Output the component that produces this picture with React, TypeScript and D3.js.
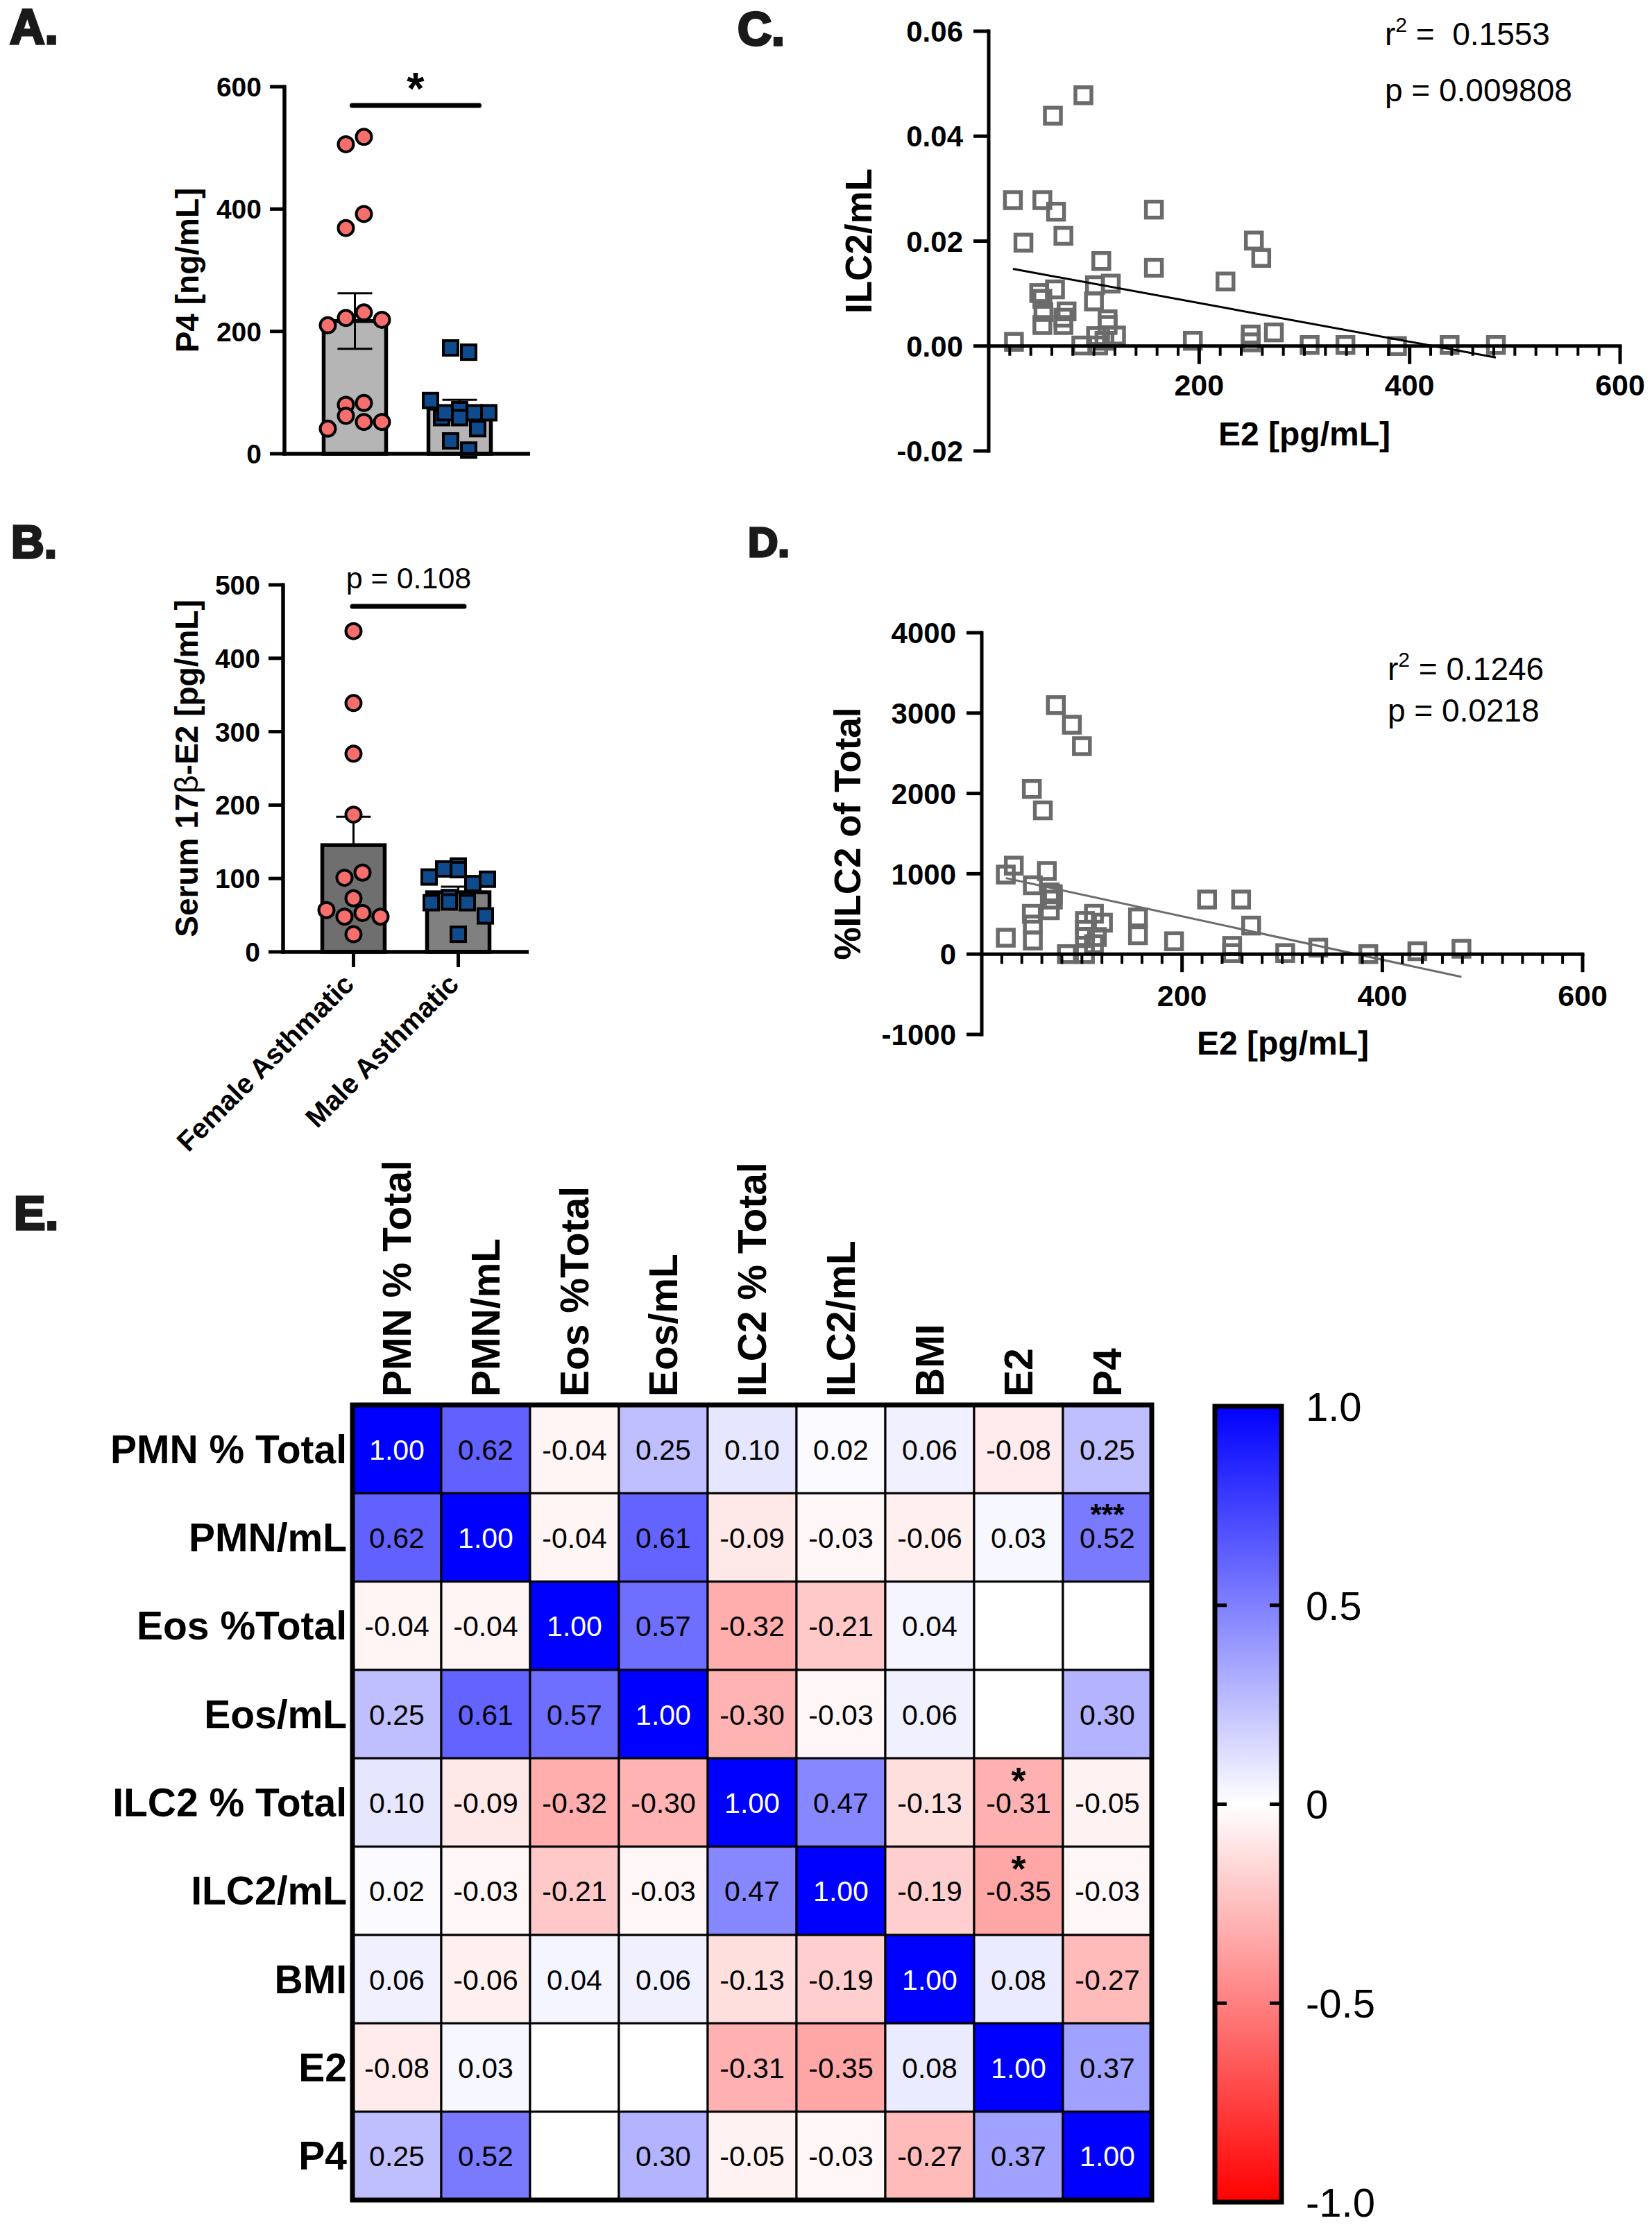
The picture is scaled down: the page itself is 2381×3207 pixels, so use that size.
import React from "react";
import * as d3 from "d3";

const FONT = "'Liberation Sans', Arial, Helvetica, sans-serif";
const W = 2381;
const H = 3207;

// ---------- Panel A / B : bar + dot plots ----------
const groups = ["Female Asthmatic", "Male Asthmatic"];
const p4Female = [506, 518, 369, 392, 210, 222, 231, 219, 80, 83, 41, 62, 52, 52];
const p4Male = [173, 166, 87, 59, 67, 72, 67, 67, 59, 41, 21, 6];
const p4Ticks = [0, 200, 400, 600];
const e2Female = [437, 339, 270, 187, 101, 108, 57, 48, 53, 48, 73, 24];
const e2Male = [102, 117, 113, 112, 93, 99, 67, 74, 71, 68, 67, 49, 24];
const e2Ticks = [0, 100, 200, 300, 400, 500];

// ---------- Panel C : ILC2/mL vs E2 ----------
const cE2 = [23, 33, 24, 51, 64, 61, 90, 71, 48, 63, 51, 52, 51, 71, 74, 71, 107, 101, 116, 100, 113, 113, 121, 102, 88, 104, 110, 157, 157, 194, 225, 252, 259, 249, 249, 271, 305, 339, 388, 438, 482];
const cILC2 = [0.0278, 0.0197, 0.0008, 0.0278, 0.0256, 0.0439, 0.0478, 0.021, 0.0101, 0.0108, 0.009, 0.0065, 0.004, 0.004, 0.0066, 0.0054, 0.0162, 0.0116, 0.0119, 0.0085, 0.0051, 0.004, 0.002, 0.0019, 0.0001, 0.0001, 0.001, 0.026, 0.0149, 0.001, 0.0123, 0.0201, 0.0168, 0.0022, 0.0007, 0.0026, 0.0002, 0.0002, 0.0, 0.0002, 0.0002];
const cFit = { intercept: 0.01555, slope: -3.68e-5 };
const cYTicks = [-0.02, 0, 0.02, 0.04, 0.06];
const cStats = ["0.1553", "0.009808"];

// ---------- Panel D : %ILC2 of Total vs E2 ----------
const dE2 = [24, 32, 24, 50, 61, 74, 90, 100, 65, 51, 68, 71, 68, 50, 51, 51, 71, 85, 103, 103, 112, 103, 121, 115, 103, 112, 156, 156, 192, 225, 259, 269, 250, 250, 303, 336, 386, 435, 479];
const dILC2 = [990, 1101, 204, 2055, 1789, 3099, 2855, 2588, 1034, 857, 768, 679, 546, 502, 368, 169, 746, 0, 0, 413, 502, 302, 391, 213, 213, 124, 457, 235, 160, 679, 679, 355, 102, 13, 13, 80, 0, 36, 67];
const dFit = { intercept: 1011, slope: -2.703 };
const dYTicks = [-1000, 0, 1000, 2000, 3000, 4000];
const dStats = ["0.1246", "0.0218"];

const xMajorTicks = [200, 400, 600];
const xMinorTicks = d3.range(20, 600, 20).filter((v) => v % 200 !== 0);

// ---------- Panel E : correlation heatmap ----------
const vars = ["PMN % Total", "PMN/mL", "Eos %Total", "Eos/mL", "ILC2 % Total", "ILC2/mL", "BMI", "E2", "P4"];
const rPMNpct = [1.0, 0.62, -0.04, 0.25, 0.1, 0.02, 0.06, -0.08, 0.25];
const rPMNml = [0.62, 1.0, -0.04, 0.61, -0.09, -0.03, -0.06, 0.03, 0.52];
const rEOSpct = [-0.04, -0.04, 1.0, 0.57, -0.32, -0.21, 0.04, null, null];
const rEOSml = [0.25, 0.61, 0.57, 1.0, -0.3, -0.03, 0.06, null, 0.3];
const rILCpct = [0.1, -0.09, -0.32, -0.3, 1.0, 0.47, -0.13, -0.31, -0.05];
const rILCml = [0.02, -0.03, -0.21, -0.03, 0.47, 1.0, -0.19, -0.35, -0.03];
const rBMI = [0.06, -0.06, 0.04, 0.06, -0.13, -0.19, 1.0, 0.08, -0.27];
const rE2 = [-0.08, 0.03, null, null, -0.31, -0.35, 0.08, 1.0, 0.37];
const rP4 = [0.25, 0.52, null, 0.3, -0.05, -0.03, -0.27, 0.37, 1.0];
const corr: (number | null)[][] = [rPMNpct, rPMNml, rEOSpct, rEOSml, rILCpct, rILCml, rBMI, rE2, rP4];
const sigMarks = [
  { row: "PMN/mL", col: "P4", mark: "***" },
  { row: "ILC2 % Total", col: "E2", mark: "*" },
  { row: "ILC2/mL", col: "E2", mark: "*" },
];
const cbTicks = [1, 0.5, 0, -0.5, -1];
const cbLabels = ["1.0", "0.5", "0", "-0.5", "-1.0"];

const loc = d3.formatLocale({ decimal: ".", thousands: ",", grouping: [3], currency: ["", ""], minus: "-" });
const f2 = loc.format(".2f");
const fInt = loc.format("d");

function swarm(values: number[], y: (v: number) => number, diam: number, spacing: number, maxHalf: number) {
  const order = d3.range(values.length).sort((a, b) => values[a] - values[b]);
  const rows: number[][] = [];
  let cur: number[] = [];
  for (const i of order) {
    if (cur.length && Math.abs(y(values[cur[0]]) - y(values[i])) >= diam) {
      rows.push(cur);
      cur = [];
    }
    cur.push(i);
  }
  if (cur.length) rows.push(cur);
  const off = new Array(values.length).fill(0);
  rows.forEach((r) => {
    r.sort((a, b) => a - b);
    const n = r.length;
    const s = n > 1 ? Math.min(spacing, (2 * maxHalf) / (n - 1)) : 0;
    r.forEach((i, k) => (off[i] = (k - (n - 1) / 2) * s));
  });
  return off;
}

function BarPanel(props: {
  y: d3.ScaleLinear<number, number>;
  x: d3.ScalePoint<string>;
  ticks: number[];
  female: number[];
  male: number[];
  fills: [string, string];
  lowerErr: boolean;
  axisX: number;
  axisEnd: number;
}) {
  const { y, x, ticks, female, male, fills, lowerErr, axisX, axisEnd } = props;
  const y0 = y(0);
  const sets = [female, male];
  return (
    <g>
      {sets.map((vals, gi) => {
        const cx = x(groups[gi]) as number;
        const m = d3.mean(vals) as number;
        const sem = (d3.deviation(vals) as number) / Math.sqrt(vals.length);
        const off = swarm(vals, y, 22, 26, 42);
        return (
          <g key={gi}>
            <rect x={cx - 45} y={y(m)} width={90} height={y0 - y(m)} fill={fills[gi]} stroke="#000" strokeWidth={5.5} />
            <line x1={cx} x2={cx} y1={y(lowerErr ? m - sem : m)} y2={y(m + sem)} stroke="#000" strokeWidth={3} />
            <line x1={cx - 25} x2={cx + 25} y1={y(m + sem)} y2={y(m + sem)} stroke="#000" strokeWidth={3} />
            {lowerErr && <line x1={cx - 25} x2={cx + 25} y1={y(m - sem)} y2={y(m - sem)} stroke="#000" strokeWidth={3} />}
            {vals.map((v, i) =>
              gi === 0 ? (
                <circle key={i} cx={cx + off[i]} cy={y(v)} r={11} fill="#f66f6c" stroke="#000" strokeWidth={4} />
              ) : (
                <rect key={i} x={cx + off[i] - 10.5} y={y(v) - 10.5} width={21} height={21} fill="#0e4a8c" stroke="#000" strokeWidth={4} />
              )
            )}
          </g>
        );
      })}
      <line x1={axisX} x2={axisX} y1={y(ticks[ticks.length - 1]) - 2.5} y2={y0 + 2.5} stroke="#000" strokeWidth={5.5} />
      <line x1={axisX - 2.5} x2={axisEnd} y1={y0} y2={y0} stroke="#000" strokeWidth={5.5} />
      {ticks.map((t) => (
        <g key={t}>
          <line x1={axisX - 21} x2={axisX} y1={y(t)} y2={y(t)} stroke="#000" strokeWidth={5} />
          <text x={axisX - 33} y={y(t)} dy="0.36em" textAnchor="end" fontSize={39} fontWeight="bold">
            {fInt(t)}
          </text>
        </g>
      ))}
    </g>
  );
}

function ScatterPanel(props: {
  x: d3.ScaleLinear<number, number>;
  y: d3.ScaleLinear<number, number>;
  xs: number[];
  ys: number[];
  fit: { intercept: number; slope: number };
  yTicks: number[];
  yFmt: (v: number) => string;
  lineColor: string;
}) {
  const { x, y, xs, ys, fit, yTicks, yFmt, lineColor } = props;
  const ax = x(0);
  const ay = y(0);
  const xmin = d3.min(xs) as number;
  const xmax = d3.max(xs) as number;
  return (
    <g>
      {xs.map((v, i) => (
        <rect key={i} x={x(v) - 11.5} y={y(ys[i]) - 11.5} width={23} height={23} fill="none" stroke="#6b6b6b" strokeWidth={5.5} />
      ))}
      <line x1={x(xmin)} y1={y(fit.intercept + fit.slope * xmin)} x2={x(xmax)} y2={y(fit.intercept + fit.slope * xmax)} stroke={lineColor} strokeWidth={3} />
      <line x1={ax} x2={ax} y1={y(yTicks[yTicks.length - 1]) - 2.5} y2={y(yTicks[0]) + 2.5} stroke="#000" strokeWidth={5} />
      <line x1={ax} x2={x(600) + 2.5} y1={ay} y2={ay} stroke="#000" strokeWidth={5} />
      {yTicks.map((t) => (
        <g key={t}>
          <line x1={ax - 22} x2={ax} y1={y(t)} y2={y(t)} stroke="#000" strokeWidth={5} />
          <text x={ax - 37} y={y(t)} dy="0.36em" textAnchor="end" fontSize={42} fontWeight="bold">
            {yFmt(t)}
          </text>
        </g>
      ))}
      {xMinorTicks.map((t) => (
        <line key={t} x1={x(t)} x2={x(t)} y1={ay} y2={ay + 14} stroke="#000" strokeWidth={4} />
      ))}
      {xMajorTicks.map((t) => (
        <g key={t}>
          <line x1={x(t)} x2={x(t)} y1={ay} y2={ay + 26} stroke="#000" strokeWidth={5} />
        </g>
      ))}
    </g>
  );
}

export default function App() {
  // Panel A
  const yA = d3.scaleLinear().domain([0, 600]).range([654, 125]);
  const xA = d3.scalePoint<string>().domain(groups).range([410, 764]).padding(0.672);
  // Panel B
  const yB = d3.scaleLinear().domain([0, 500]).range([1372, 843]);
  const xB = d3.scalePoint<string>().domain(groups).range([408, 762]).padding(0.672);
  // Panel C
  const xC = d3.scaleLinear().domain([0, 600]).range([1425, 2335]);
  const yC = d3.scaleLinear().domain([-0.02, 0.06]).range([650, 45]);
  // Panel D
  const xD = d3.scaleLinear().domain([0, 600]).range([1415, 2281]);
  const yD = d3.scaleLinear().domain([-1000, 4000]).range([1491, 912]);
  // Panel E
  const xH = d3.scaleBand<string>().domain(vars).range([508, 1660]);
  const yH = d3.scaleBand<string>().domain(vars).range([2025, 3171]);
  const color = d3.scaleLinear<string>().domain([-1, 0, 1]).range(["#ff0000", "#ffffff", "#0000ff"]);
  const yCB = d3.scaleLinear().domain([-1, 1]).range([3174, 2027]);
  const cbX0 = 1751;
  const cbX1 = 1847;
  const gradStops = d3.range(-1, 1.0001, 0.25);

  const panelLabel = (t: string, x: number, y: number, fs: number) => (
    <text x={x} y={y} fontSize={fs} fontWeight="bold" fill="#1a1a1a" stroke="#1a1a1a" strokeWidth={3.5}>
      {t}
    </text>
  );

  return (
    <svg width={W} height={H} style={{ position: "absolute", left: 0, top: 0 }} fontFamily={FONT}>
      <defs>
        <linearGradient id="cbGrad" x1="0" y1="1" x2="0" y2="0">
          {gradStops.map((v) => (
            <stop key={v} offset={`${((v + 1) / 2) * 100}%`} stopColor={color(v)} />
          ))}
        </linearGradient>
      </defs>
      <rect width={W} height={H} fill="#fff" />

      {/* Panel labels */}
      {panelLabel("A.", 14, 63, 70)}
      {panelLabel("B.", 16, 804, 66)}
      {panelLabel("C.", 1063, 65, 68)}
      {panelLabel("D.", 1078, 802, 60)}
      {panelLabel("E.", 20, 1772, 68)}

      {/* ===== Panel A ===== */}
      <BarPanel y={yA} x={xA} ticks={p4Ticks} female={p4Female} male={p4Male} fills={["#b5b5b5", "#b5b5b5"]} lowerErr={true} axisX={410} axisEnd={764} />
      <text transform={`translate(286,${(yA(0) + yA(600)) / 2}) rotate(-90)`} textAnchor="middle" fontSize={46} fontWeight="bold">
        P4 [ng/mL]
      </text>
      <line x1={xA(groups[0])! - 4} x2={xA(groups[1])! + 28} y1={152} y2={152} stroke="#000" strokeWidth={7} strokeLinecap="round" />
      <text x={((xA(groups[0]) as number) + (xA(groups[1]) as number)) / 2 + 12} y={150} textAnchor="middle" fontSize={65} fontWeight="bold">
        *
      </text>

      {/* ===== Panel B ===== */}
      <BarPanel y={yB} x={xB} ticks={e2Ticks} female={e2Female} male={e2Male} fills={["#6f6f6f", "#808080"]} lowerErr={false} axisX={408} axisEnd={762} />
      <text transform={`translate(285,${(yB(0) + yB(500)) / 2}) rotate(-90)`} textAnchor="middle" fontSize={46} fontWeight="bold">
        Serum 17<tspan fontWeight="normal">β</tspan>-E2 [pg/mL]
      </text>
      <line x1={508} x2={669} y1={874} y2={874} stroke="#000" strokeWidth={7} strokeLinecap="round" />
      <text x={589} y={848} textAnchor="middle" fontSize={43}>
        p = 0.108
      </text>
      {groups.map((g) => {
        const cx = xB(g) as number;
        return (
          <g key={g}>
            <line x1={cx} x2={cx} y1={yB(0)} y2={yB(0) + 22} stroke="#000" strokeWidth={5} />
            <text transform={`translate(${cx + 3},${yB(0) + 49}) rotate(-45)`} textAnchor="end" fontSize={40} fontWeight="bold">
              {g}
            </text>
          </g>
        );
      })}

      {/* ===== Panel C ===== */}
      <ScatterPanel x={xC} y={yC} xs={cE2} ys={cILC2} fit={cFit} yTicks={cYTicks} yFmt={f2} lineColor="#000" />
      {xMajorTicks.map((t) => (
        <text key={t} x={xC(t)} y={570} textAnchor="middle" fontSize={43} fontWeight="bold">
          {fInt(t)}
        </text>
      ))}
      <text x={1880} y={642} textAnchor="middle" fontSize={48} fontWeight="bold">
        E2 [pg/mL]
      </text>
      <text transform={`translate(1256,${(yC(0.06) + yC(-0.02)) / 2}) rotate(-90)`} textAnchor="middle" fontSize={53} fontWeight="bold">
        ILC2/mL
      </text>
      <text x={1996} y={65} fontSize={46}>
        r<tspan fontSize={30} dy={-19}>2</tspan>
        <tspan dy={19}>{"\u00a0=\u00a0\u00a0" + cStats[0]}</tspan>
      </text>
      <text x={1996} y={146} fontSize={46}>
        {"p = " + cStats[1]}
      </text>

      {/* ===== Panel D ===== */}
      <ScatterPanel x={xD} y={yD} xs={dE2} ys={dILC2} fit={dFit} yTicks={dYTicks} yFmt={fInt} lineColor="#6b6b6b" />
      {xMajorTicks.map((t) => (
        <text key={t} x={xD(t)} y={1450} textAnchor="middle" fontSize={43} fontWeight="bold">
          {fInt(t)}
        </text>
      ))}
      <text x={1849} y={1520} textAnchor="middle" fontSize={48} fontWeight="bold">
        E2 [pg/mL]
      </text>
      <text transform={`translate(1240,${(yD(4000) + yD(-1000)) / 2}) rotate(-90)`} textAnchor="middle" fontSize={53} fontWeight="bold">
        %ILC2 of Total
      </text>
      <text x={2000} y={980} fontSize={46}>
        r<tspan fontSize={30} dy={-19}>2</tspan>
        <tspan dy={19}>{"\u00a0= " + dStats[0]}</tspan>
      </text>
      <text x={2000} y={1040} fontSize={46}>
        {"p = " + dStats[1]}
      </text>

      {/* ===== Panel E: heatmap ===== */}
      {corr.map((row, ri) =>
        row.map((v, ci) => {
          const x = xH(vars[ci]) as number;
          const y = yH(vars[ri]) as number;
          const bw = xH.bandwidth();
          const bh = yH.bandwidth();
          return (
            <g key={`${ri}-${ci}`}>
              <rect x={x} y={y} width={bw} height={bh} fill={v === null ? "#ffffff" : color(v)} stroke="#000" strokeWidth={3} />
              {v !== null && (
                <text x={x + bw / 2} y={y + bh / 2 + 15} textAnchor="middle" fontSize={41} fill={v > 0.9 ? "#fff" : "#000"}>
                  {f2(v)}
                </text>
              )}
            </g>
          );
        })
      )}
      {sigMarks.map((s, i) => {
        const cx = (xH(s.col) as number) + xH.bandwidth() / 2;
        const cy = (yH(s.row) as number) + yH.bandwidth() / 2;
        return s.mark.length > 1 ? (
          <text key={i} x={cx} y={cy - 19} textAnchor="middle" fontSize={42} fontWeight="bold">
            {s.mark}
          </text>
        ) : (
          <text key={i} x={cx} y={cy - 13} textAnchor="middle" fontSize={54} fontWeight="bold">
            {s.mark}
          </text>
        );
      })}
      <rect x={508} y={2025} width={1152} height={1146} fill="none" stroke="#000" strokeWidth={7} />
      {vars.map((v) => (
        <text key={`r${v}`} x={500} y={(yH(v) as number) + yH.bandwidth() / 2 + 20} textAnchor="end" fontSize={57} fontWeight="bold">
          {v}
        </text>
      ))}
      {vars.map((v) => (
        <text
          key={`c${v}`}
          transform={`translate(${(xH(v) as number) + xH.bandwidth() / 2 + 20},2013) rotate(-90)`}
          textAnchor="start"
          fontSize={57}
          fontWeight="bold"
        >
          {v}
        </text>
      ))}

      {/* Colorbar */}
      <rect x={cbX0} y={yCB(1)} width={cbX1 - cbX0} height={yCB(-1) - yCB(1)} fill="url(#cbGrad)" stroke="#000" strokeWidth={7} />
      {cbTicks.map((t, i) => (
        <g key={t}>
          {Math.abs(t) < 1 && (
            <>
              <line x1={cbX0} x2={cbX0 + 17} y1={yCB(t)} y2={yCB(t)} stroke="#000" strokeWidth={5} />
              <line x1={cbX1 - 17} x2={cbX1} y1={yCB(t)} y2={yCB(t)} stroke="#000" strokeWidth={5} />
            </>
          )}
          <text x={1882} y={yCB(t)} dy="0.36em" fontSize={58}>
            {cbLabels[i]}
          </text>
        </g>
      ))}
    </svg>
  );
}
